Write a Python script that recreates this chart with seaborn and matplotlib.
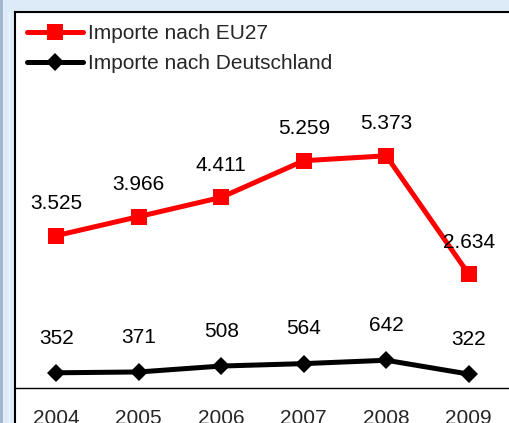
import matplotlib
matplotlib.use('Agg')
import matplotlib.pyplot as plt
from matplotlib.lines import Line2D
from matplotlib.patches import Rectangle
import seaborn as sbn
import pandas as pd

years = ['2004', '2005', '2006', '2007', '2008', '2009']
eu27 = [3525, 3966, 4411, 5259, 5373, 2634]
deutschland = [352, 371, 508, 564, 642, 322]
series_names = ['Importe nach EU27', 'Importe nach Deutschland']

def de_fmt(v):
    # german thousands separator
    return '{:,}'.format(v).replace(',', '.')

sbn.set_style('white')
plt.rcParams['font.family'] = ['Liberation Sans', 'DejaVu Sans']

W, H = 510, 423
fig = plt.figure(figsize=(W / 100, H / 100), dpi=100, facecolor='#DDEBF9')
ax = fig.add_axes([15 / W, 1 - 388 / H, 495 / W, 376 / H])
ax.set_facecolor('white')

df = pd.DataFrame({
    'Jahr': years * 2,
    'Wert': eu27 + deutschland,
    'Serie': [series_names[0]] * len(years) + [series_names[1]] * len(years),
})

sbn.lineplot(data=df[df['Serie'] == series_names[0]], x='Jahr', y='Wert',
             color='#FF0000', marker='s', markersize=11, linewidth=3.6,
             markeredgewidth=0, markeredgecolor='#FF0000', ax=ax,
             label=series_names[0])
sbn.lineplot(data=df[df['Serie'] == series_names[1]], x='Jahr', y='Wert',
             color='black', marker='D', markersize=9.2, linewidth=3.6,
             markeredgewidth=0, markeredgecolor='black', ax=ax,
             label=series_names[1])

for i, v in enumerate(eu27):
    ax.annotate(de_fmt(v), (i, v), xytext=(0, 23), textcoords='offset points',
                ha='center', va='center', fontsize=15, color='black')
for i, v in enumerate(deutschland):
    ax.annotate(de_fmt(v), (i, v), xytext=(0, 25), textcoords='offset points',
                ha='center', va='center', fontsize=15, color='black')

ax.set_xlim(-0.5, len(years) - 0.5)
ax.set_ylim(0, 8700)
ax.set_xlabel('')
ax.set_ylabel('')
ax.set_yticks([])
ax.set_xticks(range(len(years)))
ax.set_xticklabels(years, fontsize=15)
ax.set_xticks([i + 0.5 for i in range(len(years))], minor=True)
ax.tick_params(axis='x', which='major', length=0, pad=15)
ax.tick_params(axis='x', which='minor', length=4.8, width=1, direction='out', color='black')

for s in ['top', 'left']:
    ax.spines[s].set_color('black')
    ax.spines[s].set_linewidth(1.5)
ax.spines['bottom'].set_color('black')
ax.spines['bottom'].set_linewidth(1)
ax.spines['right'].set_visible(False)

leg = ax.legend(loc='upper left', bbox_to_anchor=(12 / 495, 1 - 12 / 376),
                frameon=False, fontsize=15, handlelength=2.7, handletextpad=0.24,
                borderpad=0, borderaxespad=0, labelspacing=0.54)

# plot area continues below the x axis (cropped)
fig.patches.append(Rectangle((15 / W, 0), 495 / W, 1 - 388 / H, transform=fig.transFigure,
                             facecolor='white', edgecolor='none', zorder=-1))
fig.lines.append(Line2D([15 / W, 15 / W], [0, 1 - 388 / H], transform=fig.transFigure,
                        color='black', linewidth=1.5))
fig.lines.append(Line2D([1.5 / W, 1.5 / W], [0, 1], transform=fig.transFigure,
                        color='#9FB3CC', linewidth=2))
fig.lines.append(Line2D([9.5 / W, 9.5 / W], [0, 1 - 12 / H], transform=fig.transFigure,
                        color='#F2F7FD', linewidth=1))

fig.savefig('out.png', dpi=100, facecolor=fig.get_facecolor())
